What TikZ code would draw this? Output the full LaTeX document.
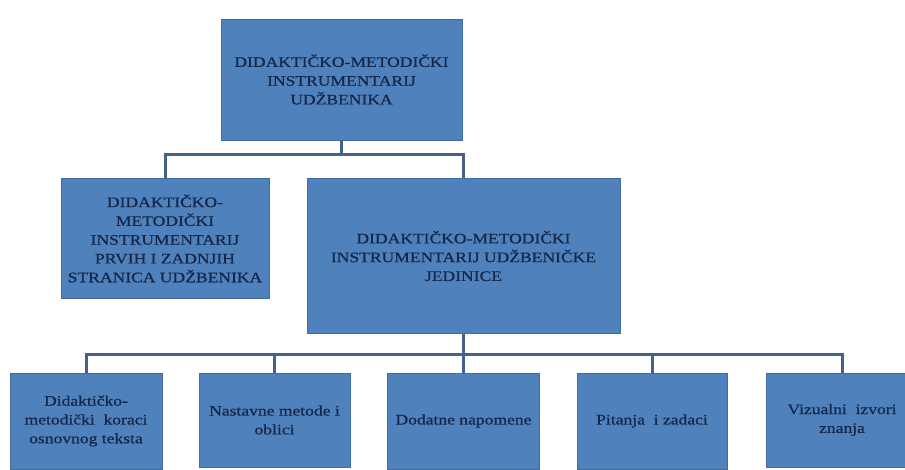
\documentclass[tikz,border=0pt]{standalone}
\usepackage{fontspec}
\setmainfont{Liberation Serif}
\newfontfamily\boxfont{Liberation Serif}[FakeStretch=1.21,FakeBold=0.6]
\definecolor{boxfill}{RGB}{79,129,189}
\definecolor{boxedge}{RGB}{66,108,160}
\definecolor{txtcol}{RGB}{22,38,72}
\definecolor{conncol}{RGB}{68,98,138}
\tikzset{
  box/.style={draw=boxedge, line width=0.6pt, fill=boxfill, text=txtcol,
    align=center, inner sep=2pt, font=\boxfont\fontsize{14.5}{18.8}\selectfont},
  connector/.style={draw=conncol, line width=3pt}
}
\begin{document}
\begin{tikzpicture}[x=1pt,y=-1pt]
\useasboundingbox (0,0) rectangle (905,470);
\node[box, minimum width=241pt, minimum height=121pt] (top) at (341.5,79.5)
  {DIDAKTIČKO-METODIČKI\\INSTRUMENTARIJ\\UDŽBENIKA};
\node[box, minimum width=208pt, minimum height=120pt] (left) at (165,238.5)
  {DIDAKTIČKO-\\METODIČKI\\INSTRUMENTARIJ\\PRVIH I ZADNJIH\\STRANICA UDŽBENIKA};
\node[box, minimum width=313pt, minimum height=155pt] (mid) at (463.5,256)
  {DIDAKTIČKO-METODIČKI\\INSTRUMENTARIJ UDŽBENIČKE\\JEDINICE};
\node[box, minimum width=152pt, minimum height=96pt] (b1) at (86,421)
  {Didaktičko-\\metodički\ \ koraci\\osnovnog teksta};
\node[box, minimum width=151pt, minimum height=94pt] (b2) at (274.5,420)
  {Nastavne metode i\\oblici};
\node[box, minimum width=152pt, minimum height=96pt] (b3) at (463.5,421)
  {Dodatne napomene};
\node[box, minimum width=150pt, minimum height=96pt] (b4) at (652,421)
  {Pitanja\ \ i zadaci};
\node[box, minimum width=152pt, minimum height=94pt] (b5) at (842,420)
  {Vizualni\ \ izvori\\znanja};
\coordinate (j1) at (341.5,155);
\coordinate (j2) at (463.5,354);
\draw[connector] (top.south) -- (j1);
\draw[connector] (left.north) -- (left.north |- j1) -- (mid.north |- j1) -- (mid.north);
\draw[connector] (mid.south) -- (b3.north);
\draw[connector] (b1.north) -- (b1.north |- j2) -- (b5.north |- j2) -- (b5.north);
\draw[connector] (b2.north) -- (b2.north |- j2);
\draw[connector] (b4.north) -- (b4.north |- j2);
\end{tikzpicture}
\end{document}
